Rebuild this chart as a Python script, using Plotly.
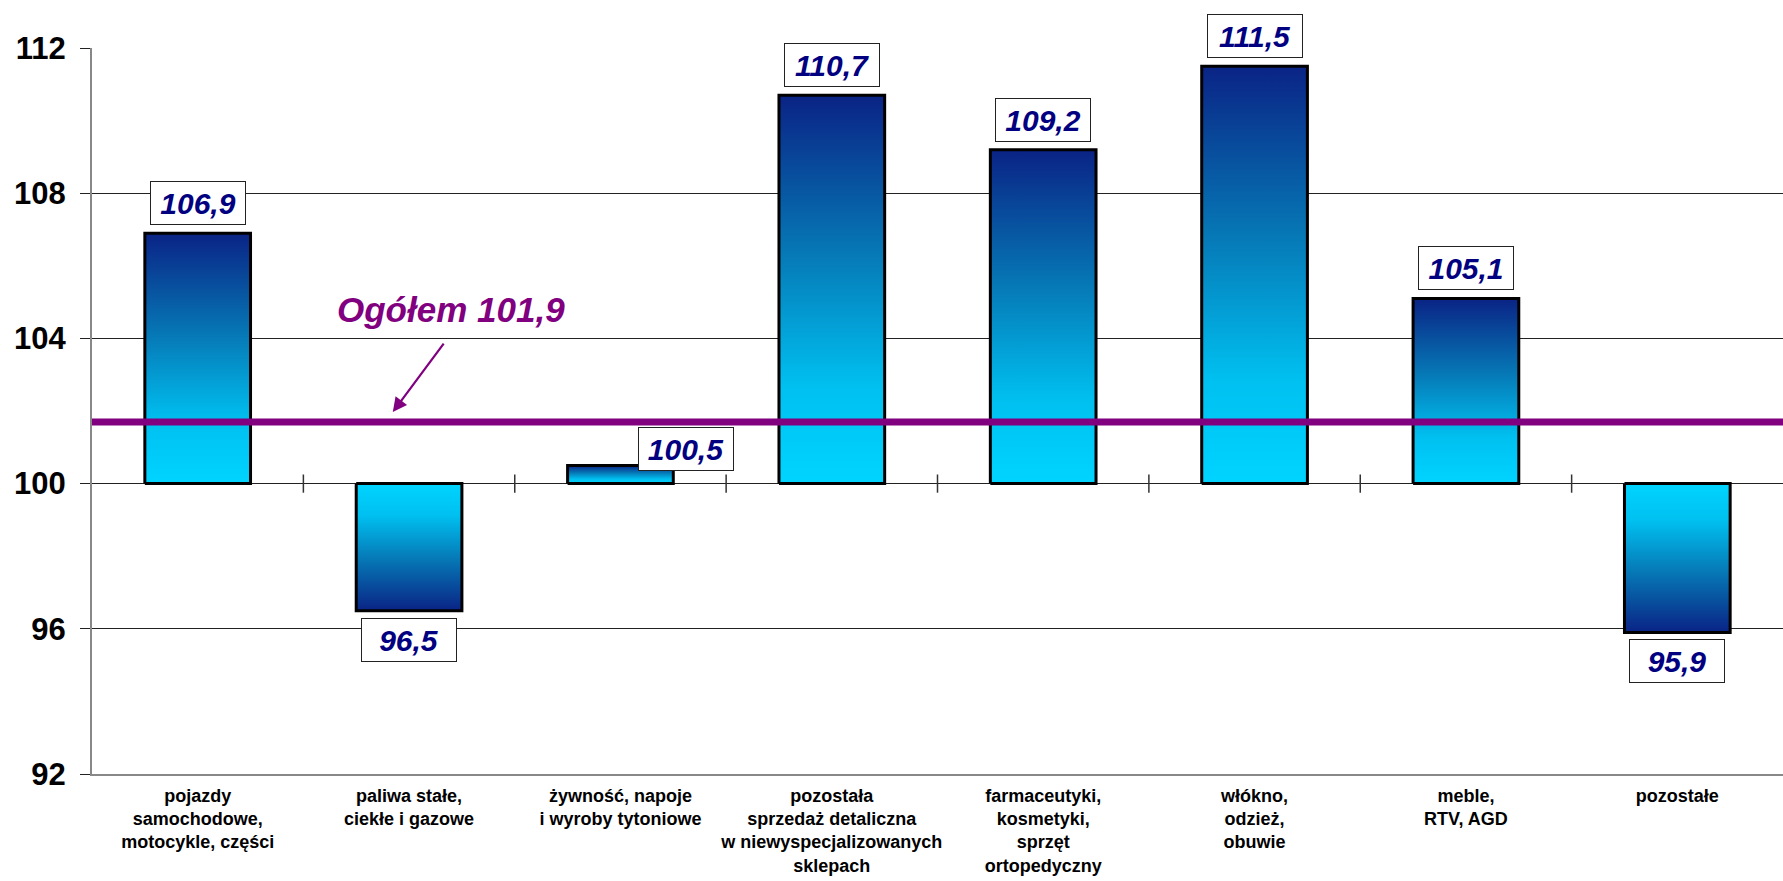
import plotly.graph_objects as go

# ---------------- data ----------------
categories = [
    "pojazdy<br>samochodowe,<br>motocykle, części",
    "paliwa stałe,<br>ciekłe i gazowe",
    "żywność, napoje<br>i wyroby tytoniowe",
    "pozostała<br>sprzedaż detaliczna<br>w niewyspecjalizowanych<br>sklepach",
    "farmaceutyki,<br>kosmetyki,<br>sprzęt<br>ortopedyczny",
    "włókno,<br>odzież,<br>obuwie",
    "meble,<br>RTV, AGD",
    "pozostałe",
]
values = [106.9, 96.5, 100.5, 110.7, 109.2, 111.5, 105.1, 95.9]
base_value = 100
ogolem_label_value = 101.9
ogolem_line_value = 101.7
y_ticks = [92, 96, 100, 104, 108, 112]

# ---------------- style ----------------
FONT = "Liberation Sans, Arial, sans-serif"
NAVY = "#000080"
PURPLE = "#800080"
BAR_HALF = 0.25
POS_SCALE = [[0, "#00d4ff"], [0.25, "#00c0f0"], [0.6, "#0677b5"], [1, "#0a2385"]]
NEG_SCALE = [[0, "#0a2385"], [0.4, "#0677b5"], [0.75, "#00c0f0"], [1, "#00d4ff"]]


def fmt(v):
    return f"{v:.1f}".replace(".", ",")


fig = go.Figure()

n = len(categories)
for i, v in enumerate(values):
    x0, x1 = i - BAR_HALF, i + BAR_HALF
    cs = POS_SCALE if v >= base_value else NEG_SCALE
    fig.add_trace(go.Scatter(
        x=[x0, x1, x1, x0, x0],
        y=[base_value, base_value, v, v, base_value],
        mode="lines",
        fill="toself",
        fillgradient=dict(type="vertical", colorscale=cs),
        line=dict(color="black", width=3),
        hoverinfo="skip",
        showlegend=False,
    ))

# tick marks crossing the 100 line at category boundaries
fig.add_trace(go.Scatter(
    x=[k + 0.5 for k in range(n - 1)],
    y=[base_value] * (n - 1),
    mode="markers",
    marker=dict(symbol="line-ns", size=13, line=dict(width=1.5, color="#333")),
    hoverinfo="skip",
    showlegend=False,
))

annotations = []
for i, v in enumerate(values):
    d = dict(
        x=i, y=v, xref="x", yref="y",
        text=f"<b><i>{fmt(v)}</i></b>",
        showarrow=False,
        font=dict(family=FONT, size=30, color=NAVY),
        bgcolor="white",
        bordercolor="#222",
        borderwidth=1,
        borderpad=5,
        width=84,
        height=32,
    )
    if abs(v - base_value) < 1:
        d.update(yanchor="bottom", xanchor="center", xshift=66, yshift=-6)
    elif v >= base_value:
        d.update(yanchor="bottom", yshift=8)
    else:
        d.update(yanchor="top", yshift=-7)
    annotations.append(d)

# Ogółem label and arrow
annotations.append(dict(
    x=1.2, y=104.8, xref="x", yref="y",
    text=f"<b><i>Ogółem {fmt(ogolem_label_value)}</i></b>",
    showarrow=False,
    font=dict(family=FONT, size=35, color=PURPLE),
))
annotations.append(dict(
    x=0.923, y=101.97, xref="x", yref="y",
    ax=52, ay=-70, axref="pixel", ayref="pixel",
    text="", showarrow=True,
    arrowhead=2, arrowsize=1.3, arrowwidth=2.2, arrowcolor=PURPLE,
))

fig.update_layout(
    width=1783, height=881,
    margin=dict(l=92, r=0, t=48, b=107),
    paper_bgcolor="white",
    plot_bgcolor="white",
    font=dict(family=FONT, color="black"),
    showlegend=False,
    annotations=annotations,
    shapes=[dict(
        type="line", xref="x", yref="y",
        x0=-0.5, x1=n - 0.5, y0=ogolem_line_value, y1=ogolem_line_value,
        line=dict(color=PURPLE, width=7), layer="above",
    )],
)

fig.update_xaxes(
    range=[-0.5, n - 0.5],
    tickmode="array",
    tickvals=list(range(n)),
    ticktext=[f"<b>{c}</b>" for c in categories],
    tickfont=dict(family=FONT, size=18, color="black"),
    showgrid=False, zeroline=False,
    showline=True, linecolor="#888", linewidth=2,
    ticks="", ticklabelstandoff=4,
)
fig.update_yaxes(
    range=[92, 112],
    tickmode="array",
    tickvals=y_ticks,
    ticktext=[f"<b>{t}</b>" for t in y_ticks],
    tickfont=dict(family=FONT, size=31, color="black"),
    showgrid=True, gridcolor="#222", gridwidth=1,
    zeroline=False,
    showline=True, linecolor="#888", linewidth=2,
    ticks="outside", ticklen=10, tickcolor="#222", tickwidth=1,
    ticklabelstandoff=8,
)

fig.write_html(
    "out.html",
    config={"displayModeBar": False},
    post_script="document.body.style.margin='0px';document.body.style.overflow='hidden';",
)
